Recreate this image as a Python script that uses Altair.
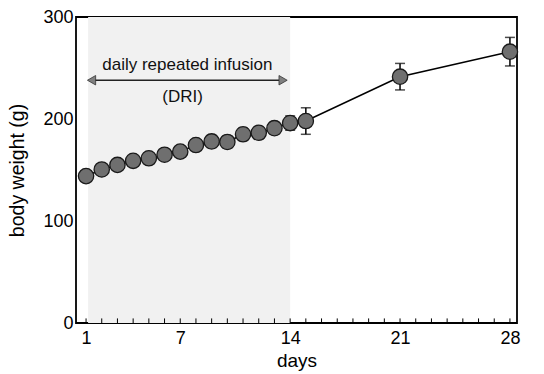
import altair as alt
import pandas as pd

# Body weight over the study period (mean ± error)
days = [1, 2, 3, 4, 5, 6, 7, 8, 9, 10, 11, 12, 13, 14, 15, 21, 28]
weight = [144, 150.5, 155, 159, 161.5, 165, 168, 174.5, 178, 177.5, 185, 186.5, 191, 196, 198, 241.5, 266]
err = [3, 3, 3, 3, 3, 3, 4, 4, 6, 6, 6, 6, 6, 7, 13, 13, 14]

tick_days = list(range(1, 29))
label_days = [1, 7, 14, 21, 28]

# DRI period and its annotation
dri_start, dri_end = 1.13, 14.0
arrow_y = 238
arrow_left, arrow_right = 1.45, 13.45
head_left, head_right = 1.35, 13.55

FONT = "Liberation Sans"

df = pd.DataFrame({"day": days, "w": weight, "lo": [w - e for w, e in zip(weight, err)],
                   "hi": [w + e for w, e in zip(weight, err)]})

xs = alt.Scale(domain=[0.36, 28.45], nice=False, zero=False)
ys = alt.Scale(domain=[0, 300], nice=False)

xaxis = alt.Axis(title="days", values=label_days, ticks=False, grid=False, labelFontSize=18,
                 labelFont=FONT, labelColor="black", labelPadding=6, titleFontSize=19, titleFont=FONT,
                 titleFontWeight="normal", titleColor="black", titlePadding=4, domain=False)
yaxis = alt.Axis(title="body weight (g)", values=[0, 100, 200, 300], ticks=False, grid=False,
                 labelFontSize=18, labelFont=FONT, labelColor="black", labelPadding=3,
                 titleFontSize=19.5, titleFont=FONT, titleFontWeight="normal", titleColor="black",
                 titlePadding=15, domain=False)

shade = alt.Chart(pd.DataFrame({"a": [dri_start], "b": [dri_end]})).mark_rect(
    color="#f1f1f1", opacity=1
).encode(
    x=alt.X("a:Q", scale=xs, axis=xaxis),
    x2="b:Q",
    y=alt.datum(0, scale=ys, axis=yaxis),
    y2=alt.datum(300),
)

ticks = alt.Chart(pd.DataFrame({"d": tick_days})).mark_rule(color="black", strokeWidth=1).encode(
    x=alt.X("d:Q", scale=xs, axis=xaxis),
    y=alt.datum(0, scale=ys, axis=yaxis),
    y2=alt.datum(4.5),
)

line = alt.Chart(df).mark_line(color="black", strokeWidth=1.6).encode(
    x=alt.X("day:Q", scale=xs, axis=xaxis), y=alt.Y("w:Q", scale=ys, axis=yaxis)
)

bars = alt.Chart(df).mark_rule(color="black", strokeWidth=1.5).encode(
    x=alt.X("day:Q", scale=xs, axis=xaxis), y=alt.Y("lo:Q", scale=ys, axis=yaxis), y2="hi:Q"
)
cap_hi = alt.Chart(df).mark_tick(orient="horizontal", color="black", size=10, thickness=1.5).encode(
    x=alt.X("day:Q", scale=xs, axis=xaxis), y=alt.Y("hi:Q", scale=ys, axis=yaxis)
)
cap_lo = alt.Chart(df).mark_tick(orient="horizontal", color="black", size=10, thickness=1.5).encode(
    x=alt.X("day:Q", scale=xs, axis=xaxis), y=alt.Y("lo:Q", scale=ys, axis=yaxis)
)

points = alt.Chart(df).mark_circle(size=235, color="#6f6f6f", stroke="#1a1a1a", strokeWidth=1.3,
                                   opacity=1).encode(
    x=alt.X("day:Q", scale=xs, axis=xaxis), y=alt.Y("w:Q", scale=ys, axis=yaxis)
)

arrow_line = alt.Chart(pd.DataFrame({"a": [arrow_left], "b": [arrow_right], "y": [arrow_y]})).mark_rule(
    color="#222222", strokeWidth=1.4
).encode(x=alt.X("a:Q", scale=xs, axis=xaxis), x2="b:Q", y=alt.Y("y:Q", scale=ys, axis=yaxis))

heads = alt.Chart(pd.DataFrame({"x": [head_left, head_right], "y": [arrow_y, arrow_y],
                                "s": ["triangle-left", "triangle-right"]})).mark_point(
    filled=True, size=90, color="#808080", stroke="#333333", strokeWidth=0.8, opacity=1
).encode(
    x=alt.X("x:Q", scale=xs, axis=xaxis), y=alt.Y("y:Q", scale=ys, axis=yaxis),
    shape=alt.Shape("s:N", scale=None, legend=None),
)

labels = alt.Chart(pd.DataFrame({"x": [7.45, 7.15], "y": [253, 222],
                                 "t": ["daily repeated infusion", "(DRI)"]})).mark_text(
    font=FONT, fontSize=17, color="#111111", baseline="middle", align="center"
).encode(x=alt.X("x:Q", scale=xs, axis=xaxis), y=alt.Y("y:Q", scale=ys, axis=yaxis), text="t:N")

chart = alt.layer(shade, ticks, line, bars, cap_hi, cap_lo, points, arrow_line, heads, labels).properties(
    width=441, height=306,
    autosize=alt.AutoSizeParams(type="none"),
    padding={"left": 76, "top": 17, "right": 27, "bottom": 51},
).configure(
    background="white",
    view=alt.ViewConfig(stroke="black", strokeWidth=1.8),
)

chart.save("out.html", embed_options={"renderer": "svg", "actions": False})
